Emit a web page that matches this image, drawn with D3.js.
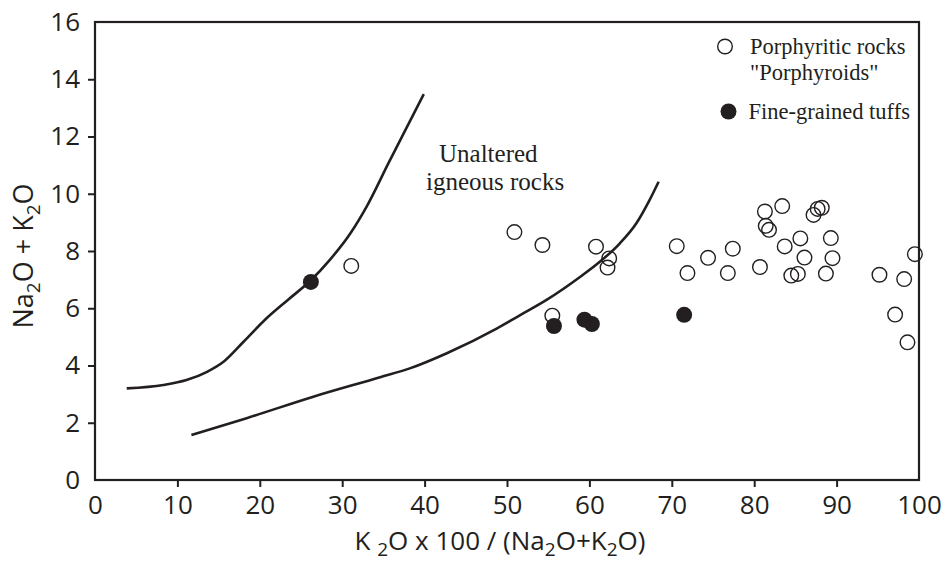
<!DOCTYPE html>
<html>
<head>
<meta charset="utf-8">
<script src="https://cdn.jsdelivr.net/npm/d3@7"></script>
<style>
  body { margin: 0; background: #fff; }
  svg { display: block; }
</style>
</head>
<body>
<svg id="chart" width="946" height="563"></svg>
<script>
// ---------- DATA ----------
const xTicks = [0, 10, 20, 30, 40, 50, 60, 70, 80, 90, 100];
const yTicks = [0, 2, 4, 6, 8, 10, 12, 14, 16];

// Porphyritic rocks "Porphyroids" (open circles): [K2O*100/(Na2O+K2O), Na2O+K2O]
const porphyroidsX = [31.1, 50.9, 54.3, 55.5, 60.8, 62.4, 62.2, 70.6, 71.9, 74.4, 77.4, 76.8,
  80.7, 81.3, 81.4, 81.8, 83.4, 83.7, 84.5, 85.3, 85.6, 86.1, 87.2, 87.7, 88.2, 88.7, 89.3, 89.5,
  95.2, 98.2, 99.5, 97.1, 98.6];
const porphyroidsY = [7.48, 8.66, 8.21, 5.74, 8.15, 7.74, 7.42, 8.17, 7.23, 7.76, 8.08, 7.23,
  7.44, 9.38, 8.88, 8.74, 9.57, 8.16, 7.14, 7.20, 8.44, 7.77, 9.26, 9.47, 9.51, 7.21, 8.45, 7.75,
  7.17, 7.02, 7.89, 5.78, 4.81];

// Fine-grained tuffs (filled circles)
const tuffsX = [26.2, 55.7, 59.4, 60.3, 71.5];
const tuffsY = [6.92, 5.38, 5.60, 5.45, 5.77];

// Boundary curves of the "Unaltered igneous rocks" field
const upperCurveX = [3.85, 8.3, 11.1, 13.6, 15.6, 18.0, 20.6, 23.4, 26.1, 28.5, 31.0, 33.0, 35.6, 39.9];
const upperCurveY = [3.20, 3.32, 3.49, 3.78, 4.13, 4.82, 5.59, 6.29, 6.95, 7.69, 8.62, 9.57, 11.06, 13.48];
const lowerCurveX = [11.7, 18.4, 26.5, 34.6, 38.2, 42.7, 48.8, 51.6, 54.8, 58.9, 61.3, 63.7, 65.7, 67.3, 68.4];
const lowerCurveY = [1.57, 2.16, 2.91, 3.59, 3.90, 4.43, 5.30, 5.76, 6.29, 7.10, 7.63, 8.27, 8.97, 9.78, 10.42];

const legendLabels = [["Porphyritic rocks", "\"Porphyroids\""], ["Fine-grained tuffs"]];
const fieldLabel = ["Unaltered", "igneous rocks"];

// ---------- LAYOUT ----------
const plotL = 95, plotR = 919, plotT = 22, plotB = 480;
const ink = "#231f20";
const sans = "'Open Sans', 'Noto Sans', sans-serif";
const serif = "'Liberation Serif', 'Times New Roman', serif";

const svg = d3.select("#chart");
const x = d3.scaleLinear().domain([0, 100]).range([plotL, plotR]);
const y = d3.scaleLinear().domain([0, 16]).range([plotB, plotT]);

const xAxis = d3.axisBottom(x).tickValues(xTicks).tickSize(7).tickPadding(8).tickFormat(d3.format("d"));
const yAxis = d3.axisLeft(y).tickValues(yTicks).tickSize(7).tickPadding(8).tickFormat(d3.format("d"));

const gx = svg.append("g").attr("transform", `translate(0,${plotB})`).call(xAxis);
const gy = svg.append("g").attr("transform", `translate(${plotL},0)`).call(yAxis);

[gx, gy].forEach(g => {
  g.select(".domain").remove();
  g.selectAll(".tick line").attr("stroke", ink).attr("stroke-width", 2);
  g.selectAll(".tick text").attr("fill", ink).style("font-family", sans).style("font-size", "26px");
});
gx.selectAll(".tick").filter(d => d === 0 || d === 100).select("line").remove();
gy.selectAll(".tick").filter(d => d === 0 || d === 16).select("line").remove();
gx.selectAll(".tick text").attr("dy", "0.71em").attr("y", 16);
gy.selectAll(".tick text").attr("x", -15);

// Frame
svg.append("rect")
  .attr("x", x(0)).attr("y", y(16))
  .attr("width", x(100) - x(0)).attr("height", y(0) - y(16))
  .attr("fill", "none").attr("stroke", ink).attr("stroke-width", 2.2);

// Curves
const line = d3.line().x(d => x(d[0])).y(d => y(d[1])).curve(d3.curveMonotoneX);
[[upperCurveX, upperCurveY], [lowerCurveX, lowerCurveY]].forEach(([xs, ys]) => {
  svg.append("path")
    .datum(xs.map((v, i) => [v, ys[i]]))
    .attr("d", line)
    .attr("fill", "none").attr("stroke", ink).attr("stroke-width", 2.6)
    .attr("stroke-linecap", "butt");
});

// Points
svg.append("g").selectAll("circle")
  .data(porphyroidsX.map((v, i) => [v, porphyroidsY[i]]))
  .join("circle")
  .attr("cx", d => x(d[0])).attr("cy", d => y(d[1])).attr("r", 7.3)
  .attr("fill", "none").attr("stroke", ink).attr("stroke-width", 1.4);

svg.append("g").selectAll("circle")
  .data(tuffsX.map((v, i) => [v, tuffsY[i]]))
  .join("circle")
  .attr("cx", d => x(d[0])).attr("cy", d => y(d[1])).attr("r", 8)
  .attr("fill", ink);

// Field label
const fl = svg.append("text").attr("fill", ink).style("font-family", serif).style("font-size", "25px");
fl.append("tspan").attr("x", 439).attr("y", 162).text(fieldLabel[0]);
fl.append("tspan").attr("x", 426).attr("y", 190).text(fieldLabel[1]);

// Legend
svg.append("circle").attr("cx", 725).attr("cy", 46.5).attr("r", 7.3)
  .attr("fill", "none").attr("stroke", ink).attr("stroke-width", 1.4);
const l1 = svg.append("text").attr("fill", ink).style("font-family", serif).style("font-size", "22.5px");
l1.append("tspan").attr("x", 750).attr("y", 53.5).text(legendLabels[0][0]);
l1.append("tspan").attr("x", 750).attr("y", 80).text(legendLabels[0][1]);
svg.append("circle").attr("cx", 728.5).attr("cy", 111.5).attr("r", 8).attr("fill", ink);
svg.append("text").attr("x", 748.5).attr("y", 118.5).attr("fill", ink)
  .style("font-family", serif).style("font-size", "22.5px").text(legendLabels[1][0]);

// Axis titles
const subSize = "19px";
const xt = svg.append("text").attr("x", 500).attr("y", 550).attr("text-anchor", "middle")
  .attr("fill", ink).style("font-family", sans).style("font-size", "26px");
xt.append("tspan").text("K ");
xt.append("tspan").attr("dy", 6).style("font-size", subSize).text("2");
xt.append("tspan").attr("dy", -6).text("O x 100 / (Na");
xt.append("tspan").attr("dy", 6).style("font-size", subSize).text("2");
xt.append("tspan").attr("dy", -6).text("O+K");
xt.append("tspan").attr("dy", 6).style("font-size", subSize).text("2");
xt.append("tspan").attr("dy", -6).text("O)");

const yt = svg.append("text").attr("transform", "translate(33,256) rotate(-90)")
  .attr("text-anchor", "middle").attr("fill", ink)
  .style("font-family", sans).style("font-size", "27px");
yt.append("tspan").text("Na");
yt.append("tspan").attr("dy", 7).style("font-size", subSize).text("2");
yt.append("tspan").attr("dy", -7).text("O + K");
yt.append("tspan").attr("dy", 7).style("font-size", subSize).text("2");
yt.append("tspan").attr("dy", -7).text("O");
</script>
</body>
</html>
